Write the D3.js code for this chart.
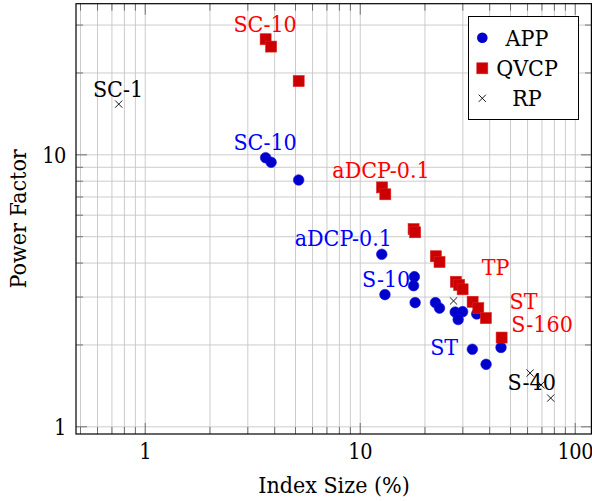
<!DOCTYPE html>
<html>
<head>
<meta charset="utf-8">
<script src="https://cdn.jsdelivr.net/npm/d3@7"></script>
<style>
  html, body { margin: 0; padding: 0; background: #fff; }
</style>
</head>
<body>
<svg id="chart" width="592" height="501"></svg>
<script>
// ---- Data: index size (%) vs power factor, log-log ----
const appX  = [3.65, 3.87, 5.2, 12.66, 17.95, 17.8, 13.1, 18.1, 22.5, 23.5, 27.8, 30.1, 28.7, 35.0, 33.4, 38.7, 45.4];
const appY  = [9.72, 9.35, 8.05, 4.29, 3.55, 3.29, 3.05, 2.85, 2.85, 2.72, 2.63, 2.64, 2.47, 2.59, 1.92, 1.69, 1.95];

const qvcpX = [3.65, 3.87, 5.2, 12.7, 13.15, 17.8, 18.1, 22.6, 23.5, 28.0, 29.0, 30.1, 33.5, 35.6, 38.6, 45.7];
const qvcpY = [26.5, 24.9, 18.6, 7.56, 7.13, 5.31, 5.17, 4.22, 4.02, 3.40, 3.31, 3.19, 2.87, 2.72, 2.50, 2.12];

const rpX   = [0.757, 27.3, 62.0, 69.7, 77.3];
const rpY   = [15.3, 2.89, 1.57, 1.42, 1.27];

// Annotation labels: text, x (centre), y (baseline), series colour key
const labelText = ["SC-10", "SC-10", "SC-1", "aDCP-0.1", "aDCP-0.1", "S-10", "TP", "ST", "S-160", "ST", "S-40"];
const labelX    = [3.63, 3.63, 0.751, 12.56, 8.39, 13.26, 42.8, 57.8, 70.5, 24.7, 63.1];
const labelY    = [28.2, 10.37, 16.3, 8.16, 4.60, 3.26, 3.60, 2.71, 2.22, 1.83, 1.36];
const labelKey  = ["QVCP", "APP", "RP", "QVCP", "APP", "APP", "QVCP", "QVCP", "QVCP", "APP", "RP"];

const seriesNames = ["APP", "QVCP", "RP"];
const xMajor = [1, 10, 100];
const yMajor = [1, 10];
const xMinor = [0.5, 0.6, 0.7, 0.8, 0.9, 2, 3, 4, 5, 6, 7, 8, 9, 20, 30, 40, 50, 60, 70, 80, 90];
const yMinor = [2, 3, 4, 5, 6, 7, 8, 9, 20, 30];

// ---- Layout ----
const L = 76, R = 592, T = 3.7, B = 434;
const x = d3.scaleLog().domain([0.479, 120.3]).range([L, R]);
const y = d3.scaleLog().domain([0.937, 35.8]).range([B, T]);

const markColor  = { APP: "#0000cc", QVCP: "#cc0000", RP: "#000000" };
const labelColor = { APP: "#0000ff", QVCP: "#ff0000", RP: "#000000" };
const FS = 23, TICK_FS = 21.5;
const FONT = "'DejaVu Serif Condensed', 'DejaVu Serif', serif";

const svg = d3.select("#chart");

// grid lines
const gridX = svg.append("g").attr("transform", `translate(0,${B})`)
  .call(d3.axisBottom(x).tickValues(xMinor.concat(xMajor)).tickSize(-(B - T)).tickFormat(""));
const gridY = svg.append("g").attr("transform", `translate(${L},0)`)
  .call(d3.axisLeft(y).tickValues(yMinor.concat(yMajor)).tickSize(-(R - L)).tickFormat(""));
[gridX, gridY].forEach(g => {
  g.select(".domain").remove();
  g.selectAll("line").attr("stroke", "#c6c6c6").attr("stroke-width", 0.9);
});

// inward ticks on all four sides
function ticks(axisFn, scale, vals, size, tr) {
  const g = svg.append("g").attr("transform", tr)
    .call(axisFn(scale).tickValues(vals).tickSize(-size).tickFormat(""));
  g.select(".domain").remove();
  g.selectAll("line").attr("stroke", "#555").attr("stroke-width", 0.8);
}
ticks(d3.axisBottom, x, xMajor, 11, `translate(0,${B})`);
ticks(d3.axisBottom, x, xMinor, 7, `translate(0,${B})`);
ticks(d3.axisTop, x, xMajor, 11, `translate(0,${T})`);
ticks(d3.axisTop, x, xMinor, 7, `translate(0,${T})`);
ticks(d3.axisLeft, y, yMajor, 11, `translate(${L},0)`);
ticks(d3.axisLeft, y, yMinor, 7, `translate(${L},0)`);
ticks(d3.axisRight, y, yMajor, 11, `translate(${R},0)`);
ticks(d3.axisRight, y, yMinor, 7, `translate(${R},0)`);

// tick labels
const xLab = svg.append("g").attr("transform", `translate(0,${B})`)
  .call(d3.axisBottom(x).tickValues(xMajor).tickSize(0).tickPadding(0).tickFormat(d3.format("d")));
xLab.attr("font-family", FONT).attr("font-size", TICK_FS).attr("letter-spacing", -0.4);
xLab.select(".domain").remove();
xLab.selectAll("text").attr("y", 24.5).attr("dy", null).attr("fill", "#000");

const yLab = svg.append("g").attr("transform", `translate(${L},0)`)
  .call(d3.axisLeft(y).tickValues(yMajor).tickSize(0).tickPadding(10).tickFormat(d3.format("d")));
yLab.attr("font-family", FONT).attr("font-size", TICK_FS).attr("letter-spacing", -0.4);
yLab.select(".domain").remove();
yLab.selectAll("text").attr("dy", "0.36em").attr("fill", "#000");

// axis titles
svg.append("text").attr("x", (L + R) / 2).attr("y", 493).attr("text-anchor", "middle")
  .attr("font-family", FONT).attr("font-size", FS).text("Index Size (%)");
svg.append("text").attr("transform", `translate(26,${(T + B) / 2}) rotate(-90)`)
  .attr("text-anchor", "middle").attr("font-family", FONT).attr("font-size", FS).text("Power Factor");

// annotations
svg.append("g").selectAll("text")
  .data(labelText.map((t, i) => ({ t, x: labelX[i], y: labelY[i], k: labelKey[i] })))
  .join("text")
  .attr("x", d => x(d.x)).attr("y", d => y(d.y))
  .attr("text-anchor", "middle").attr("font-family", FONT).attr("font-size", FS)
  .attr("fill", d => labelColor[d.k]).text(d => d.t);

// markers
const appPts  = appX.map((v, i) => [v, appY[i]]);
const qvcpPts = qvcpX.map((v, i) => [v, qvcpY[i]]);
const rpPts   = rpX.map((v, i) => [v, rpY[i]]);

const CR = 5.3, SQ = 11, CX = 3.6;

svg.append("g").selectAll("circle").data(appPts).join("circle")
  .attr("cx", d => x(d[0])).attr("cy", d => y(d[1])).attr("r", CR)
  .attr("fill", markColor.APP).attr("stroke", "#1010d8").attr("stroke-width", 0.6);

svg.append("g").selectAll("rect").data(qvcpPts).join("rect")
  .attr("x", d => x(d[0]) - SQ / 2).attr("y", d => y(d[1]) - SQ / 2)
  .attr("width", SQ).attr("height", SQ)
  .attr("fill", markColor.QVCP).attr("stroke", "#dd2020").attr("stroke-width", 0.6);

svg.append("g").selectAll("path").data(rpPts).join("path")
  .attr("d", d => {
    const cx = x(d[0]), cy = y(d[1]);
    return `M${cx - CX},${cy - CX}L${cx + CX},${cy + CX}M${cx - CX},${cy + CX}L${cx + CX},${cy - CX}`;
  })
  .attr("stroke", markColor.RP).attr("stroke-width", 0.9).attr("fill", "none");

// frame
svg.append("rect").attr("x", L).attr("y", T).attr("width", R - L - 0.6).attr("height", B - T)
  .attr("fill", "none").attr("stroke", "#000").attr("stroke-width", 1.2);

// legend
const lg = svg.append("g");
const lgX = 468.5, lgY = 16.5, lgW = 110, lgH = 103;
lg.append("rect").attr("x", lgX).attr("y", lgY).attr("width", lgW).attr("height", lgH)
  .attr("fill", "#fff").attr("stroke", "#000").attr("stroke-width", 1);
const rowY = [37.7, 68.3, 98.3];
seriesNames.forEach((name, i) => {
  const cy = rowY[i], mx = 482.3;
  if (name === "APP") {
    lg.append("circle").attr("cx", mx).attr("cy", cy).attr("r", CR).attr("fill", markColor.APP);
  } else if (name === "QVCP") {
    lg.append("rect").attr("x", mx - SQ / 2).attr("y", cy - SQ / 2).attr("width", SQ).attr("height", SQ)
      .attr("fill", markColor.QVCP).attr("stroke", "#dd2020").attr("stroke-width", 0.6);
  } else {
    lg.append("path")
      .attr("d", `M${mx - CX},${cy - CX}L${mx + CX},${cy + CX}M${mx - CX},${cy + CX}L${mx + CX},${cy - CX}`)
      .attr("stroke", "#000").attr("stroke-width", 0.9);
  }
  lg.append("text").attr("x", 527).attr("y", cy + 8).attr("text-anchor", "middle")
    .attr("font-family", FONT).attr("font-size", FS).text(name);
});
</script>
</body>
</html>
